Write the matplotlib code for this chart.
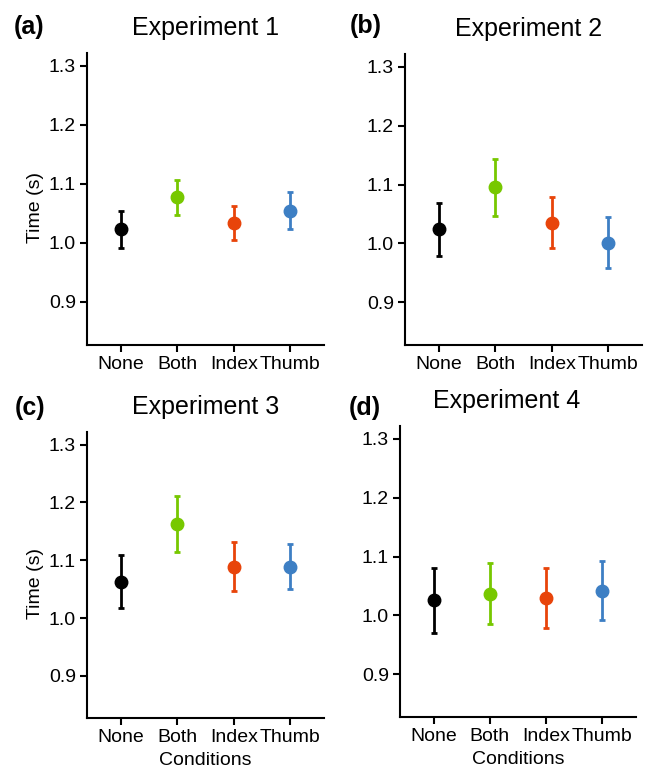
import numpy as np
import matplotlib.pyplot as plt

plt.rcParams['font.family'] = ['Liberation Sans', 'DejaVu Sans']

conditions = ['None', 'Both', 'Index', 'Thumb']
colors = ['#000000', '#77C800', '#E8440A', '#3D7FC4']
titles = ['Experiment 1', 'Experiment 2', 'Experiment 3', 'Experiment 4']
letters = ['(a)', '(b)', '(c)', '(d)']

# mean time per condition, and the lower / upper ends of the error bars
means = [
    [1.023, 1.078, 1.034, 1.055],
    [1.024, 1.095, 1.035, 1.001],
    [1.063, 1.163, 1.088, 1.088],
    [1.026, 1.036, 1.029, 1.042],
]
lows = [
    [0.991, 1.048, 1.005, 1.024],
    [0.979, 1.047, 0.992, 0.958],
    [1.018, 1.114, 1.046, 1.050],
    [0.970, 0.985, 0.978, 0.992],
]
highs = [
    [1.054, 1.106, 1.063, 1.086],
    [1.068, 1.143, 1.078, 1.045],
    [1.109, 1.212, 1.131, 1.129],
    [1.081, 1.089, 1.081, 1.092],
]
yticks = [0.9, 1.0, 1.1, 1.2, 1.3]

W, H = 649, 769
fig = plt.figure(figsize=(W / 100, H / 100), dpi=100)

# axes boxes in pixels: left, right, top, bottom
boxes = [
    (87, 324, 53, 345),
    (405, 642, 54, 345),
    (87, 324, 432, 718),
    (400, 636, 426, 717),
]
# panel letter positions (pixels from top-left)
letter_pos = [(14, 27), (350, 26), (15, 408), (349, 408)]
title_x = [0.5, 0.52, 0.5, 0.45]

for i, (l, r, t, b) in enumerate(boxes):
    ax = fig.add_axes([l / W, 1 - b / H, (r - l) / W, (b - t) / H])
    x = np.arange(1, 5)
    for j in range(4):
        m = means[i][j]
        err = [[m - lows[i][j]], [highs[i][j] - m]]
        ax.errorbar(x[j], m, yerr=err, fmt='o', color=colors[j],
                    markersize=9, elinewidth=2, capsize=2.5, capthick=2)
    ax.set_xlim(0.4, 4.6)
    ax.set_ylim(0.827, 1.322)
    ax.set_xticks(x)
    ax.set_xticklabels(conditions)
    ax.set_yticks(yticks)
    ax.set_yticklabels([f'{v:.1f}' for v in yticks])
    for s in ['top', 'right']:
        ax.spines[s].set_visible(False)
    for s in ['left', 'bottom']:
        ax.spines[s].set_linewidth(1.5)
    ax.tick_params(axis='both', labelsize=14, width=1.5, length=5, pad=3)
    ax.set_title(titles[i], fontsize=18, pad=13, x=title_x[i])
    lx, ly = letter_pos[i]
    fig.text(lx / W, 1 - ly / H, letters[i], fontsize=18, fontweight='bold',
             va='center', ha='left')
    if i % 2 == 0:
        ax.set_ylabel('Time (s)', fontsize=14)
        ax.yaxis.set_label_coords(-0.18, 0.47)
    if i >= 2:
        ax.set_xlabel('Conditions', fontsize=14, labelpad=4)

fig.savefig('out.png', dpi=100)
